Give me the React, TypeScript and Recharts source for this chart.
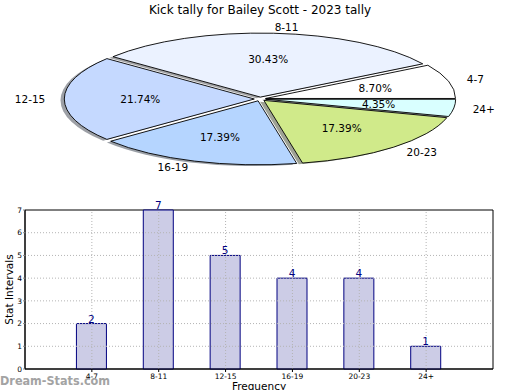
import React from 'react';
import { PieChart, Pie, BarChart, Bar, XAxis, YAxis, ReferenceLine, ReferenceArea, LabelList, Label } from 'recharts';

const title = 'Kick tally for Bailey Scott - 2023 tally';
const categories = ['4-7', '8-11', '12-15', '16-19', '20-23', '24+'];
const counts = [2, 7, 5, 4, 4, 1];
const sliceColors = ['#FFFFFF', '#EBF2FF', '#C5D9FF', '#B5D5FF', '#D0EA8A', '#D9FFFF'];
const xPositions = [1, 2, 3, 4, 5, 6];
const yTicks = [0, 1, 2, 3, 4, 5, 6, 7];
const gridY = [1, 2, 3, 4, 5, 6];

const pieData = categories.map((name, i) => ({ name, value: counts[i] }));
const barData = categories.map((name, i) => ({ name, pos: xPositions[i], value: counts[i] }));

const CX = 260;
const CY = 99;
const RX = 190;
const RY = 64;
const EXPLODE = 0.03;
const FONT = '"DejaVu Sans", Verdana, sans-serif';
const RAD = Math.PI / 180;

function offsets(mid: number) {
  return { ex: EXPLODE * RX * Math.cos(mid * RAD), ey: -EXPLODE * RY * Math.sin(mid * RAD) };
}

function wedgePath(s: number, e: number, X: number, Y: number) {
  const x1 = X + RX * Math.cos(s * RAD);
  const y1 = Y - RY * Math.sin(s * RAD);
  const x2 = X + RX * Math.cos(e * RAD);
  const y2 = Y - RY * Math.sin(e * RAD);
  const large = Math.abs(e - s) > 180 ? 1 : 0;
  return `M${X},${Y} L${x1},${y1} A${RX},${RY} 0 ${large} 0 ${x2},${y2} Z`;
}

function darken(hex: string) {
  const n = parseInt(hex.slice(1), 16);
  const r = Math.round(((n >> 16) & 255) * 0.3);
  const g = Math.round(((n >> 8) & 255) * 0.3);
  const b = Math.round((n & 255) * 0.3);
  return `rgb(${r},${g},${b})`;
}

const renderShadow = (p: any) => {
  const mid = (p.startAngle + p.endAngle) / 2;
  const { ex, ey } = offsets(mid);
  return (
    <path
      key={`sh-${p.index}`}
      d={wedgePath(p.startAngle, p.endAngle, CX + ex - 0.02 * RX, CY + ey + 0.02 * RY)}
      fill={darken(sliceColors[p.index])}
      fillOpacity={0.5}
      stroke="none"
    />
  );
};

const renderWedge = (p: any) => {
  const mid = (p.startAngle + p.endAngle) / 2;
  const { ex, ey } = offsets(mid);
  return (
    <path
      key={`w-${p.index}`}
      d={wedgePath(p.startAngle, p.endAngle, CX + ex, CY + ey)}
      fill={sliceColors[p.index]}
      stroke="#000"
      strokeWidth={0.9}
      strokeLinejoin="miter"
    />
  );
};

const renderText = (p: any) => {
  const mid = (p.startAngle + p.endAngle) / 2;
  const { ex, ey } = offsets(mid);
  const c = Math.cos(mid * RAD);
  const s = Math.sin(mid * RAD);
  const lx = CX + ex + 1.1 * RX * c;
  const ly = CY + ey - 1.1 * RY * s;
  const px = CX + ex + 0.6 * RX * c;
  const py = CY + ey - 0.6 * RY * s;
  const pct = ((p.value / counts.reduce((a, b) => a + b, 0)) * 100).toFixed(2) + '%';
  return (
    <g key={`t-${p.index}`}>
      <text x={lx} y={ly} textAnchor={c >= 0 ? 'start' : 'end'} dominantBaseline="central" fontSize={10.5} fontFamily={FONT} fill="#000">
        {p.name}
      </text>
      <text x={px} y={py} textAnchor="middle" dominantBaseline="central" fontSize={10.5} fontFamily={FONT} fill="#000">
        {pct}
      </text>
    </g>
  );
};

const pieCommon = {
  data: pieData,
  dataKey: 'value',
  nameKey: 'name',
  cx: CX,
  cy: CY,
  innerRadius: 0,
  outerRadius: RX,
  startAngle: 0,
  endAngle: 360,
  isAnimationActive: false,
  fill: 'none',
  stroke: 'none',
  labelLine: false,
};

export default function App() {
  return (
    <div style={{ position: 'absolute', left: 0, top: 0, width: 520, height: 390, background: '#fff', overflow: 'hidden' }}>
      <div
        style={{
          position: 'absolute',
          left: 0,
          top: 2,
          width: 520,
          textAlign: 'center',
          fontFamily: FONT,
          fontSize: 12,
          lineHeight: '16px',
          color: '#000',
        }}
      >
        {title}
      </div>
      <div style={{ position: 'absolute', left: 0, top: 0 }}>
        <PieChart width={520} height={195} margin={{ top: 0, right: 0, bottom: 0, left: 0 }}>
          <Pie {...(pieCommon as any)} label={renderShadow} />
          <Pie {...(pieCommon as any)} label={renderWedge} />
          <Pie {...(pieCommon as any)} label={renderText} />
        </PieChart>
      </div>
      <div style={{ position: 'absolute', left: 0, top: 195 }}>
        <BarChart width={520} height={195} data={barData} margin={{ top: 15, right: 27, bottom: 0, left: 0 }}>
          <XAxis
            type="number"
            dataKey="pos"
            domain={[0, 7]}
            ticks={xPositions}
            interval={0}
            tickFormatter={(v: number) => categories[v - 1]}
            height={21}
            tick={{ fontSize: 7.5, fill: '#000', fontFamily: FONT }}
            tickSize={3}
            tickLine={{ stroke: '#000' }}
            axisLine={{ stroke: '#000' }}
          >
            <Label
              content={(props: any) => {
                const vb = props.viewBox;
                return (
                  <text x={vb.x + vb.width / 2} y={vb.y + 21} textAnchor="middle" fontSize={10.5} fontFamily={FONT} fill="#000">
                    Frequency
                  </text>
                );
              }}
            />
          </XAxis>
          <YAxis
            type="number"
            domain={[0, 7]}
            ticks={yTicks}
            interval={0}
            width={25}
            tick={{ fontSize: 7.5, fill: '#000', fontFamily: FONT }}
            tickSize={2}
            tickMargin={1}
            tickLine={{ stroke: '#888' }}
            axisLine={{ stroke: '#000' }}
          >
            <Label
              content={(props: any) => {
                const vb = props.viewBox;
                const cy = vb.y + vb.height / 2;
                return (
                  <text x={9} y={cy} transform={`rotate(-90, 9, ${cy})`} textAnchor="middle" dominantBaseline="central" fontSize={10.5} fontFamily={FONT} fill="#000">
                    Stat Intervals
                  </text>
                );
              }}
            />
          </YAxis>
          <Bar dataKey="value" barSize={30} fill="#CCCCE6" stroke="#000080" strokeWidth={1} isAnimationActive={false}>
            <LabelList dataKey="value" position="top" offset={1} fill="#000080" fontSize={10.5} fontFamily={FONT} />
          </Bar>
          {xPositions.map((x) => (
            <ReferenceLine key={`gx${x}`} x={x} stroke="#b4b4b4" strokeDasharray="1 2" />
          ))}
          {gridY.map((y) => (
            <ReferenceLine key={`gy${y}`} y={y} stroke="#b4b4b4" strokeDasharray="1 2" />
          ))}
          <ReferenceArea x1={0} x2={7} y1={0} y2={7} fill="none" fillOpacity={0} stroke="#000" strokeWidth={1} />
        </BarChart>
      </div>
      <div
        style={{
          position: 'absolute',
          left: 0,
          top: 372,
          fontFamily: '"DejaVu Sans Condensed", "DejaVu Sans", sans-serif',
          fontSize: 12.5,
          fontWeight: 'bold',
          color: '#a3a3a3',
          lineHeight: '17px',
          whiteSpace: 'nowrap',
        }}
      >
        Dream-Stats.com
      </div>
    </div>
  );
}
